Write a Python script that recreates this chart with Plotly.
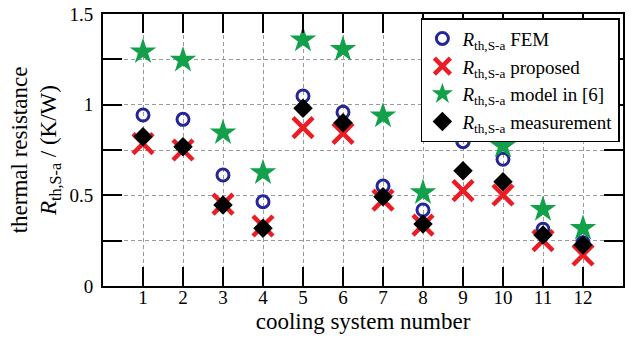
import plotly.graph_objects as go

# cooling system numbers
systems = list(range(1, 13))

# thermal resistance heat sink to ambient, K/W
r_fem = [0.943, 0.919, 0.612, 0.465, 1.048, 0.958, 0.551, 0.419, 0.796, 0.699, 0.313, 0.239]
r_proposed = [0.785, 0.750, 0.452, 0.331, 0.873, 0.842, 0.474, 0.336, 0.526, 0.502, 0.250, 0.171]
r_model6 = [1.292, 1.246, 0.845, 0.625, 1.357, 1.305, 0.938, 0.515, 0.845, 0.772, 0.423, 0.318]
r_meas = [0.823, 0.768, 0.447, 0.318, 0.980, 0.900, 0.492, 0.342, 0.636, 0.575, 0.281, 0.226]

y_tickvals = [0, 0.25, 0.5, 0.75, 1, 1.25, 1.5]
y_ticktext = ["0", " ", "0.5", " ", "1", " ", "1.5"]

FONT = "Liberation Serif"
INK = "black"
SUB = "<i>R</i><sub>th,S-a</sub>"

fig = go.Figure()

fig.add_trace(go.Scatter(
    x=systems, y=r_fem, mode="markers", name=SUB + " FEM",
    marker=dict(symbol="circle-open", size=12, color="#25259a",
                line=dict(width=3, color="#25259a")),
))
fig.add_trace(go.Scatter(
    x=systems, y=r_proposed, mode="markers", name=SUB + " proposed",
    marker=dict(symbol="x-thin", size=20, color="#ec1c24",
                line=dict(width=4.5, color="#ec1c24")),
))
fig.add_trace(go.Scatter(
    x=systems, y=r_model6, mode="markers", name=SUB + " model in [6]",
    marker=dict(symbol="star", size=20, color="#12a04a",
                line=dict(width=0)),
))
fig.add_trace(go.Scatter(
    x=systems, y=r_meas, mode="markers", name=SUB + " measurement",
    marker=dict(symbol="diamond", size=15, color="black",
                line=dict(width=0)),
))

axis_style = dict(
    showline=True, linecolor=INK, linewidth=2, mirror="ticks",
    ticks="inside", ticklen=19, tickwidth=2, tickcolor=INK,
    showgrid=True, gridcolor="#9a9a9a", gridwidth=1, griddash="4px,3px",
    zeroline=False, automargin=False,
    tickfont=dict(family=FONT, size=19, color="black"),
)

fig.update_layout(
    width=634, height=340,
    margin=dict(l=103, r=11, t=14, b=54),
    plot_bgcolor="white", paper_bgcolor="white",
    font=dict(family=FONT, size=19, color="black"),
    xaxis=dict(
        range=[0, 13], tickmode="array", tickvals=systems,
        ticktext=[str(s) for s in systems], ticklabelstandoff=-7,
        title=dict(text="cooling system number", standoff=6),
        **axis_style,
    ),
    yaxis=dict(
        range=[0, 1.5], tickmode="array", tickvals=y_tickvals,
        ticktext=y_ticktext, ticklabelstandoff=4,
        title=dict(text="thermal resistance<br>" + SUB + " / (K/W)", standoff=6),
        **axis_style,
    ),
    showlegend=True,
    legend=dict(
        x=0.994, y=0.985, xanchor="right", yanchor="top",
        bgcolor="white", bordercolor="black", borderwidth=1.5,
        font=dict(family=FONT, size=19, color="black"),
        tracegroupgap=0, itemwidth=30,
    ),
)

fig.write_html("out.html")
